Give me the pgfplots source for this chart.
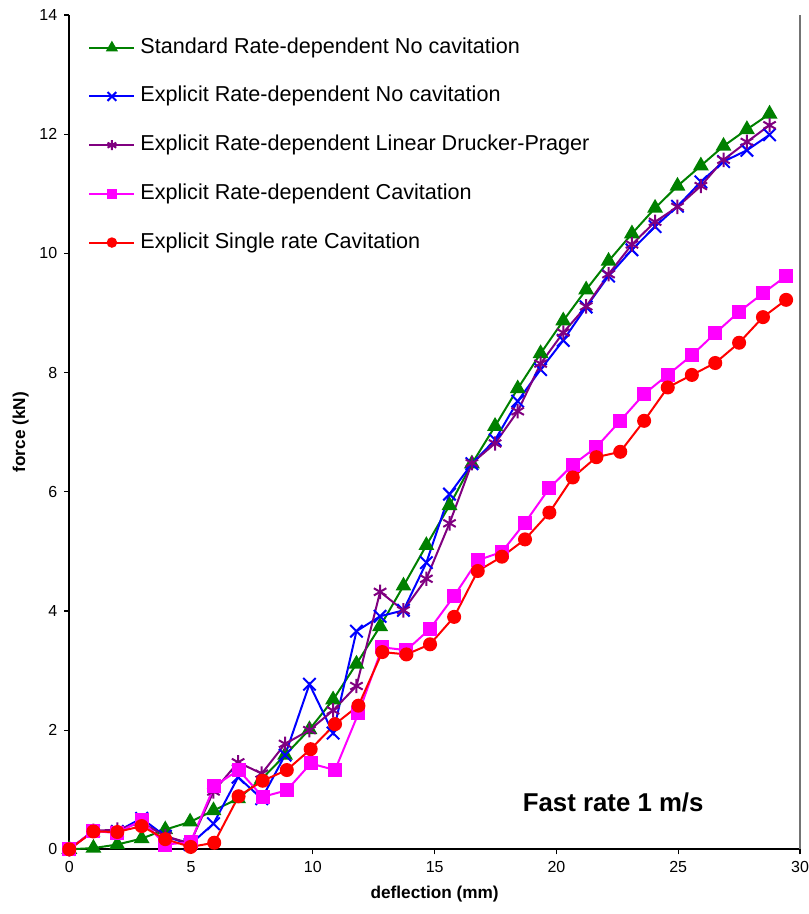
\documentclass[border=0pt]{standalone}
\usepackage{pgfplots}
\pgfplotsset{compat=1.18}
\usepackage{fontspec}
\setmainfont{Liberation Sans}
\definecolor{cgreen}{RGB}{0,128,0}
\definecolor{cblue}{RGB}{0,0,255}
\definecolor{cpurple}{RGB}{128,0,128}
\definecolor{cmag}{RGB}{255,0,255}
\definecolor{cred}{RGB}{255,0,0}
\begin{document}
\begin{tikzpicture}
\begin{axis}[
  scale only axis,
  width=365.35pt, height=417.15pt,
  xmin=0, xmax=30, ymin=0, ymax=14,
  xtick distance=5, ytick distance=2,
  axis lines*=left,
  axis line style={black, line width=0.8pt},
  tick align=outside,
  major tick length=2.5pt,
  tick style={black, line width=0.6pt},
  /pgf/number format/assume math mode=true,
  ticklabel style={font=\fontsize{8}{9.6}\selectfont},
  xlabel={\textbf{deflection (mm)}},
  ylabel={\textbf{force (kN)}},
  ylabel style={yshift=-1.5pt},
  label style={font=\fontsize{8.6}{10}\selectfont},
  clip=false,
  legend cell align=left,
  legend style={draw=none, fill=none, at={(rel axis cs:0.0256,0.9738)}, anchor=north west,
    inner sep=0pt, font=\fontsize{10.8}{13}\selectfont, row sep=13.85pt, column sep=2.5pt,
    nodes={inner sep=0pt, text height=8pt, text depth=2.5pt}},
  legend image code/.code={\draw[line width=1pt, mark repeat=2,mark phase=2, every mark/.append style={scale=0.7}] plot coordinates {(0pt,0pt) (11.25pt,0pt) (22.5pt,0pt)};},
  every axis plot/.append style={line width=1pt},
]
\draw[black!55, line width=0.8pt] (rel axis cs:1,0) -- (rel axis cs:1,1);
\addplot[cgreen, line width=1pt, mark=triangle*, mark size=3.6pt, mark options={solid}] coordinates {
(0,0) (0.99,0.02) (1.97,0.08) (2.97,0.18) (3.94,0.33) (4.96,0.46) (5.92,0.65) (6.93,0.85) (7.90,1.18) (8.86,1.58)
(9.86,2.01) (10.83,2.51) (11.79,3.11) (12.76,3.74) (13.72,4.42) (14.66,5.10) (15.61,5.77) (16.53,6.47) (17.48,7.10) (18.41,7.73)
(19.35,8.32) (20.28,8.87) (21.22,9.39) (22.14,9.87) (23.10,10.33) (24.05,10.76) (24.97,11.13) (25.93,11.47) (26.86,11.80) (27.82,12.08) (28.75,12.34)};
\addlegendentry{Standard Rate-dependent No cavitation}
\addplot[cblue, line width=1pt, mark=x, mark size=4.4pt] coordinates {
(0,0) (0.99,0.31) (1.97,0.30) (2.97,0.52) (3.94,0.22) (4.96,0.08) (5.92,0.43) (6.93,1.21) (7.90,0.85) (8.86,1.58)
(9.86,2.77) (10.83,1.95) (11.79,3.66) (12.76,3.91) (13.72,4.01) (14.66,4.81) (15.61,5.96) (16.53,6.47) (17.48,6.87) (18.41,7.52)
(19.35,8.05) (20.28,8.54) (21.22,9.10) (22.14,9.62) (23.10,10.06) (24.05,10.45) (24.97,10.79) (25.93,11.20) (26.86,11.54) (27.82,11.73) (28.75,11.99)};
\addlegendentry{Explicit Rate-dependent No cavitation}
\addplot[cpurple, line width=1pt, mark=asterisk, mark size=3.6pt] coordinates {
(0,0) (0.99,0.31) (1.97,0.33) (2.97,0.45) (3.94,0.22) (4.96,0.10) (5.92,0.97) (6.93,1.46) (7.90,1.27) (8.86,1.77)
(9.86,2.00) (10.83,2.33) (11.79,2.74) (12.76,4.32) (13.72,4.01) (14.66,4.54) (15.61,5.47) (16.53,6.48) (17.48,6.81) (18.41,7.35)
(19.35,8.15) (20.28,8.67) (21.22,9.11) (22.14,9.65) (23.10,10.15) (24.05,10.53) (24.97,10.78) (25.93,11.13) (26.86,11.57) (27.82,11.87) (28.75,12.15)};
\addlegendentry{Explicit Rate-dependent Linear Drucker-Prager}
\addplot[cmag, line width=1pt, mark=square*, mark size=3pt] coordinates {
(0,0) (0.99,0.31) (1.97,0.27) (2.97,0.49) (3.94,0.08) (4.98,0.12) (5.95,1.06) (6.95,1.33) (7.94,0.88) (8.93,0.99)
(9.91,1.44) (10.91,1.33) (11.87,2.28) (12.85,3.39) (13.84,3.34) (14.81,3.70) (15.80,4.25) (16.77,4.85) (17.76,4.99) (18.71,5.48)
(19.71,6.06) (20.67,6.45) (21.64,6.75) (22.62,7.19) (23.60,7.64) (24.57,7.96) (25.56,8.29) (26.52,8.66) (27.50,9.02) (28.48,9.33) (29.43,9.62)};
\addlegendentry{Explicit Rate-dependent Cavitation}
\addplot[cred, line width=1pt, mark=*, mark size=3pt] coordinates {
(0,0) (0.99,0.30) (1.97,0.29) (2.97,0.39) (3.94,0.17) (4.98,0.04) (5.95,0.11) (6.95,0.89) (7.94,1.15) (8.93,1.33)
(9.91,1.68) (10.91,2.10) (11.87,2.41) (12.85,3.31) (13.84,3.27) (14.81,3.44) (15.80,3.90) (16.77,4.67) (17.76,4.91) (18.71,5.20)
(19.71,5.65) (20.67,6.24) (21.64,6.58) (22.62,6.67) (23.60,7.19) (24.57,7.75) (25.56,7.96) (26.52,8.16) (27.50,8.50) (28.48,8.93) (29.43,9.22)};
\addlegendentry{Explicit Single rate Cavitation}
\node[font=\bfseries\fontsize{12.9}{15}\selectfont] at (axis cs:22.33,0.78) {Fast rate 1 m/s};
\end{axis}
\pgfresetboundingbox
\path[use as bounding box] ([shift={(-34.65pt,-32.35pt)}]current axis.south west) rectangle ([shift={(4pt,7.5pt)}]current axis.north east);
\end{tikzpicture}
\end{document}
